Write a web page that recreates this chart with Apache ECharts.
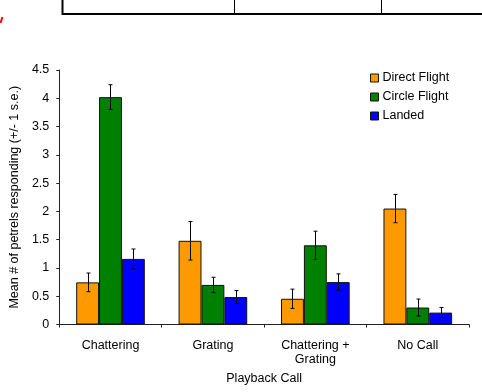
<!DOCTYPE html>
<html>
<head>
<meta charset="utf-8">
<script src="https://cdn.jsdelivr.net/npm/echarts@6/dist/echarts.min.js"></script>
<style>
html,body{margin:0;padding:0;background:#fff;}
#c{width:482px;height:392px;}
</style>
</head>
<body>
<div id="c"></div>
<script>
const categories = ['Chattering', 'Grating', 'Chattering +\nGrating', 'No Call'];
const seriesNames = ['Direct Flight', 'Circle Flight', 'Landed'];
const directFlight = [0.745, 1.48, 0.455, 2.05];
const circleFlight = [4.02, 0.70, 1.40, 0.30];
const landed = [1.16, 0.485, 0.75, 0.21];
const directFlightSE = [0.165, 0.34, 0.17, 0.25];
const circleFlightSE = [0.22, 0.135, 0.25, 0.15];
const landedSE = [0.175, 0.115, 0.145, 0.09];
const yTicks = [0, 0.5, 1, 1.5, 2, 2.5, 3, 3.5, 4, 4.5];

const colors = ['#FF9900', '#008000', '#0000FF'];
const means = [directFlight, circleFlight, landed];
const ses = [directFlightSE, circleFlightSE, landedSE];
const catGap = 0.33;
const font = '"Liberation Sans", Arial, sans-serif';

const chart = echarts.init(document.getElementById('c'), null, {renderer: 'canvas'});

const barSeries = seriesNames.map((name, s) => ({
  name: name,
  type: 'bar',
  data: means[s],
  barGap: '0%',
  barCategoryGap: (catGap * 100) + '%',
  itemStyle: {color: colors[s], borderColor: '#111', borderWidth: 1},
  z: 2
}));

const errSeries = seriesNames.map((name, s) => ({
  name: name + ' err',
  type: 'custom',
  data: means[s].map((m, i) => [i, m, ses[s][i]]),
  z: 5,
  silent: true,
  renderItem: function (params, api) {
    const i = api.value(0), m = api.value(1), se = api.value(2);
    const catW = api.size([1, 0])[0];
    const barW = catW * (1 - catGap) / 3;
    const c = api.coord([i, m]);
    const x = Math.round(c[0] + (s - 1) * barW) + 0.5;
    const yt = api.coord([i, m + se])[1];
    const yb = api.coord([i, m - se])[1];
    const cap = 2;
    const st = {stroke: '#000', lineWidth: 1};
    return {
      type: 'group',
      children: [
        {type: 'line', shape: {x1: x, y1: yt, x2: x, y2: yb}, style: st},
        {type: 'line', shape: {x1: x - cap, y1: yt, x2: x + cap, y2: yt}, style: st},
        {type: 'line', shape: {x1: x - cap, y1: yb, x2: x + cap, y2: yb}, style: st}
      ]
    };
  }
}));

chart.setOption({
  animation: false,
  backgroundColor: '#fff',
  textStyle: {fontFamily: font},
  grid: {left: 58, right: 13, top: 70, bottom: 67.5, containLabel: false},
  legend: {
    data: seriesNames,
    orient: 'vertical',
    left: 370,
    top: 71,
    padding: 0,
    itemWidth: 8,
    itemHeight: 8,
    itemGap: 5,
    icon: 'rect',
    itemStyle: {borderColor: '#111', borderWidth: 1},
    textStyle: {fontFamily: font, fontSize: 12.5, color: '#000', lineHeight: 14, padding: [0, 0, 0, -1]}
  },
  xAxis: {
    type: 'category',
    data: categories,
    name: 'Playback Call',
    nameLocation: 'middle',
    nameGap: 48,
    nameTextStyle: {fontFamily: font, fontSize: 12.5, color: '#000'},
    axisLine: {lineStyle: {color: '#222', width: 1}},
    axisTick: {show: true, length: 3, lineStyle: {color: '#222'}},
    axisLabel: {fontFamily: font, fontSize: 12.5, color: '#000', margin: 14, lineHeight: 14, interval: 0}
  },
  yAxis: {
    type: 'value',
    min: yTicks[0],
    max: yTicks[yTicks.length - 1],
    interval: 0.5,
    name: 'Mean # of petrels responding (+/- 1 s.e.)',
    nameLocation: 'middle',
    nameGap: 33,
    nameTextStyle: {fontFamily: font, fontSize: 12.5, color: '#000'},
    axisLine: {show: true, lineStyle: {color: '#222', width: 1}},
    axisTick: {show: true, length: 3, lineStyle: {color: '#222'}},
    splitLine: {show: false},
    axisLabel: {
      fontFamily: font, fontSize: 12.5, color: '#000', margin: 10,
      formatter: v => String(v)
    }
  },
  graphic: [
    {type: 'line', shape: {x1: 62.5, y1: 0, x2: 62.5, y2: 15}, style: {stroke: '#000', lineWidth: 2}},
    {type: 'line', shape: {x1: 62, y1: 14, x2: 482, y2: 14}, style: {stroke: '#000', lineWidth: 2}},
    {type: 'line', shape: {x1: 234.5, y1: 0, x2: 234.5, y2: 14}, style: {stroke: '#000', lineWidth: 1}},
    {type: 'line', shape: {x1: 381.5, y1: 0, x2: 381.5, y2: 14}, style: {stroke: '#000', lineWidth: 1}},
    {type: 'line', shape: {x1: 2.5, y1: 17, x2: 0.5, y2: 23}, style: {stroke: '#ff0000', lineWidth: 2}}
  ],
  series: barSeries.concat(errSeries)
});
</script>
</body>
</html>
